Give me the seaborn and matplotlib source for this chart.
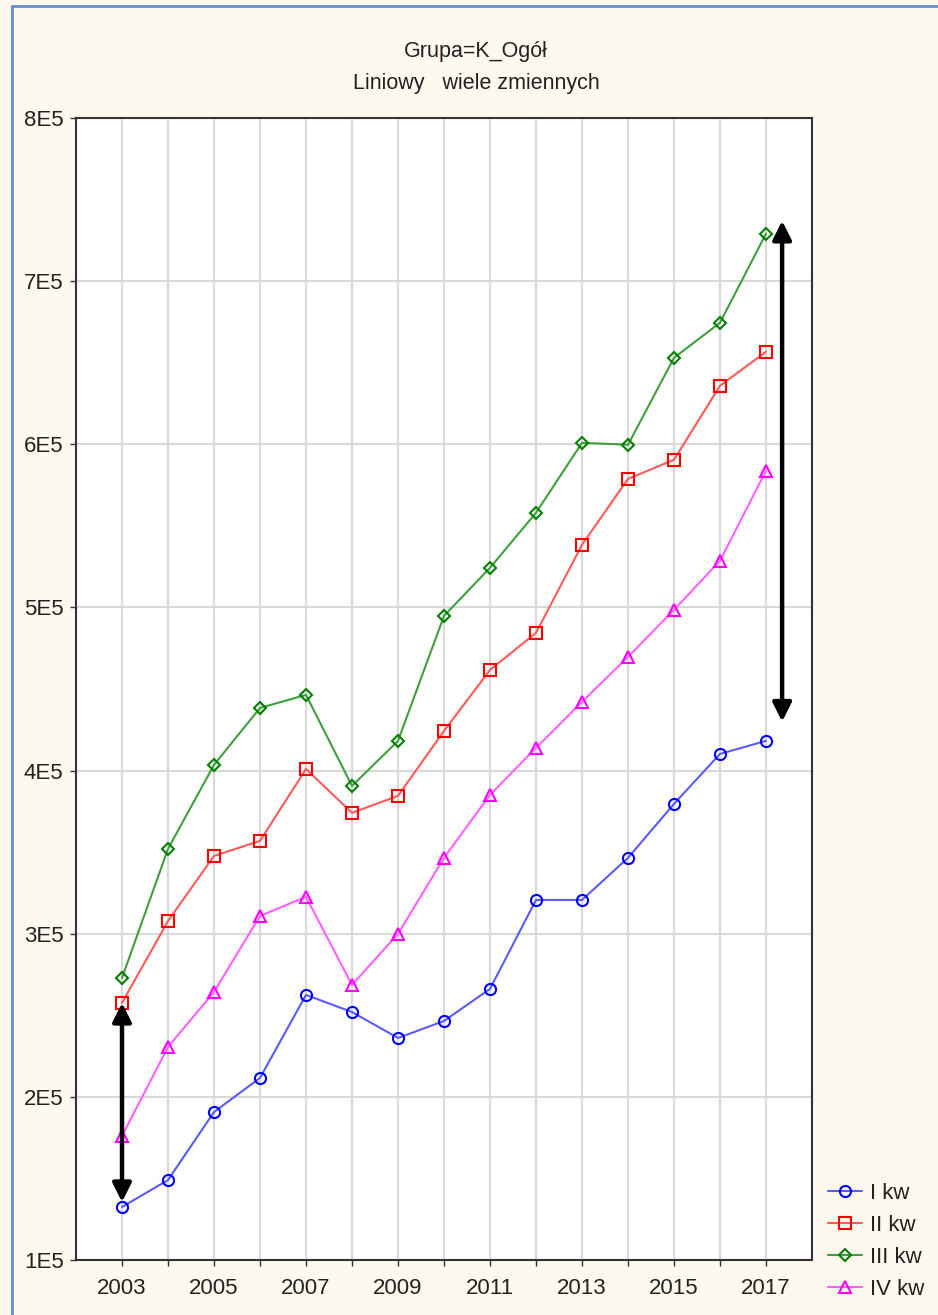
import matplotlib
matplotlib.use("Agg")
import matplotlib.pyplot as plt
import seaborn as sns
import numpy as np
from matplotlib.lines import Line2D

years = list(range(2003, 2018))
series_names = ["I kw", "II kw", "III kw", "IV kw"]
kw1 = [132500, 149000, 190700, 211600, 262500, 252000, 236100, 246500, 266200,
       320700, 320700, 346500, 379600, 410200, 418200]
kw2 = [257600, 307800, 347700, 356900, 401000, 374100, 384500, 424300, 461700,
       484400, 538400, 578800, 590500, 635900, 656700]
kw3 = [272900, 352000, 403500, 438400, 446400, 390600, 418200, 494800, 524300,
       558000, 600900, 599700, 653000, 674500, 729100]
kw4 = [176000, 230600, 264300, 310900, 322600, 268600, 299900, 346500, 385100,
       413900, 442100, 469700, 498500, 528600, 583800]
y_ticks = [100000, 200000, 300000, 400000, 500000, 600000, 700000, 800000]
y_tick_labels = ["1E5", "2E5", "3E5", "4E5", "5E5", "6E5", "7E5", "8E5"]
x_tick_labels = [str(y) if y % 2 == 1 else "" for y in years]
arrow_x = [2003, 2017.35]
arrow_top = [257600, 737000]
arrow_bottom = [135500, 430000]
title1 = "Grupa=K_Ogół"
title2 = "Liniowy   wiele zmiennych"

sns.set_theme(style="white")
plt.rcParams["font.family"] = ["Liberation Sans", "DejaVu Sans"]

BG = "#fdf9ee"
TXT = "#222222"
fig = plt.figure(figsize=(9.38, 13.15), dpi=100, facecolor=BG)
ax = fig.add_axes([76 / 938, 1 - 1260 / 1315, (812 - 76) / 938, (1260 - 118) / 1315])
ax.set_facecolor("white")

styles = [
    ("#5a5aff", "#0000ff", "o", 8),
    ("#ff5a5a", "#ff0000", "s", 8.5),
    ("#3f9f3f", "#008000", "D", 6),
    ("#ff60ff", "#ff00ff", "^", 8.5),
]
data = [kw1, kw2, kw3, kw4]
for name, vals, (lc, mc, mk, ms) in zip(series_names, data, styles):
    sns.lineplot(x=years, y=vals, ax=ax, color=lc, marker=mk, markersize=ms,
                 markerfacecolor="none", markeredgecolor=mc, markeredgewidth=1.5,
                 linewidth=1.5, label=name, legend=False, zorder=3)

for xa, yt, yb in zip(arrow_x, arrow_top, arrow_bottom):
    ax.annotate("", xy=(xa, yt), xytext=(xa, yb),
                arrowprops=dict(arrowstyle="<|-|>", lw=3.2, color="black",
                                mutation_scale=28, shrinkA=0, shrinkB=0),
                zorder=5)

ax.set_xlim(2002, 2018)
ax.set_ylim(100000, 800000)
ax.set_xticks(years)
ax.set_xticklabels(x_tick_labels)
ax.set_yticks(y_ticks)
ax.set_yticklabels(y_tick_labels)
ax.grid(True, color="#d9d9d9", linewidth=1.5, zorder=0)
ax.set_axisbelow(True)
ax.tick_params(axis="both", which="major", direction="out", length=4, width=1,
               color="#333333", labelsize=16, labelcolor=TXT, pad=5,
               bottom=True, left=True)
ax.tick_params(axis="x", pad=9)
for sp in ax.spines.values():
    sp.set_color("#333333")
    sp.set_linewidth(1.5)
ax.set_xlabel("")
ax.set_ylabel("")

fig.text(476 / 938, 1 - 52 / 1315, title1, ha="center", va="center", fontsize=15.5, color=TXT)
fig.text(476 / 938, 1 - 84 / 1315, title2, ha="center", va="center", fontsize=15.5, color=TXT)

handles = [Line2D([0], [0], color=lc, marker=mk, markersize=ms, markerfacecolor="none",
                  markeredgecolor=mc, markeredgewidth=1.5, linewidth=1.5)
           for (lc, mc, mk, ms) in styles]
leg = fig.legend(handles, series_names, loc="lower left",
                 bbox_to_anchor=(819 / 938, 6 / 1315), frameon=False, fontsize=16,
                 handlelength=1.55, handletextpad=0.35, labelspacing=0.5,
                 borderaxespad=0)
for t in leg.get_texts():
    t.set_color(TXT)

# figure border (left and top)
fig.add_artist(Line2D([12 / 938, 12 / 938], [0, 1 - 6 / 1315], transform=fig.transFigure,
                      color="#5f8fd4", linewidth=2))
fig.add_artist(Line2D([12 / 938, 1], [1 - 6 / 1315, 1 - 6 / 1315], transform=fig.transFigure,
                      color="#5f8fd4", linewidth=2))

fig.savefig("out.png", dpi=100, facecolor=BG)
